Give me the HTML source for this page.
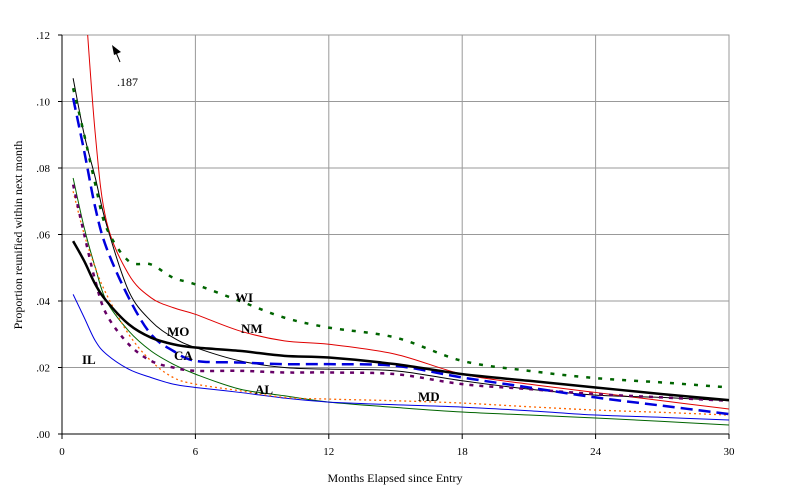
<!DOCTYPE html>
<html><head><meta charset="utf-8"><style>
body{margin:0;background:#fff;}
svg{display:block;font-family:"Liberation Serif",serif;}
</style></head><body>
<svg id="chart" width="805" height="495">
<defs><clipPath id="clip"><rect x="62" y="35" width="667" height="399"/></clipPath></defs>
<g id="grid"></g>
<g id="series" clip-path="url(#clip)"></g>
<g id="axes"></g>
<g id="labels"></g>
<text x="22" y="235" transform="rotate(-90 22 235)" text-anchor="middle" font-size="12">Proportion reunified within next month</text>
<text x="395" y="482" text-anchor="middle" font-size="12">Months Elapsed since Entry</text>
<line x1="120" y1="62" x2="115" y2="50" stroke="#000" stroke-width="1"/>
<polygon points="112,45 121,52 114,55" fill="#000"/>
<text x="117" y="86" font-size="12">.187</text>
</svg>
<script>
const xTicks=[0,6,12,18,24,30];
const yTicks=[0,0.02,0.04,0.06,0.08,0.10,0.12];
const yTickLabels=[".00",".02",".04",".06",".08",".10",".12"];
const months=[0.5,1,1.5,2,3,4,5,6,8,10,12,15,18,21,24,27,30];
const nmVals=[0.187,0.135,0.090,0.064,0.048,0.041,0.038,0.036,0.031,0.028,0.027,0.024,0.018,0.015,0.0125,0.010,0.0075];
const moVals=[0.107,0.090,0.077,0.063,0.043,0.034,0.029,0.026,0.022,0.020,0.0195,0.019,0.016,0.0135,0.0117,0.011,0.010];
const thickVals=[0.058,0.052,0.045,0.040,0.033,0.029,0.027,0.026,0.025,0.0235,0.023,0.021,0.018,0.016,0.014,0.012,0.0102];
const wiVals=[0.104,0.090,0.075,0.062,0.052,0.051,0.047,0.045,0.040,0.035,0.032,0.029,0.022,0.019,0.0168,0.0155,0.014];
const caVals=[0.101,0.085,0.068,0.056,0.041,0.030,0.025,0.022,0.0215,0.021,0.021,0.0205,0.017,0.014,0.011,0.0085,0.006];
const purpleVals=[0.075,0.060,0.046,0.036,0.027,0.022,0.020,0.019,0.019,0.0185,0.0185,0.018,0.015,0.0135,0.012,0.011,0.010];
const alVals=[0.077,0.062,0.050,0.040,0.031,0.025,0.021,0.018,0.0135,0.0115,0.0096,0.008,0.0066,0.0057,0.0048,0.0038,0.0027];
const ilVals=[0.042,0.035,0.028,0.024,0.0195,0.017,0.015,0.014,0.0125,0.0108,0.0096,0.0088,0.0081,0.007,0.0057,0.005,0.0042];
const mdVals=[0.073,0.060,0.050,0.042,0.030,0.022,0.017,0.015,0.013,0.011,0.0105,0.010,0.0093,0.0082,0.0072,0.0065,0.0057];
const ns="http://www.w3.org/2000/svg";
const X=m=>62+m*667/30, Y=v=>434-v*399/0.12;
function mk(tag,attrs,parent){const e=document.createElementNS(ns,tag);for(const k in attrs)e.setAttribute(k,attrs[k]);parent.appendChild(e);return e;}
const grid=document.getElementById('grid'),axes=document.getElementById('axes'),ser=document.getElementById('series'),lab=document.getElementById('labels');
mk('rect',{x:62,y:35,width:667,height:399,fill:'none',stroke:'#999'},grid);
yTicks.forEach((t,i)=>{
 if(t>0){const l=mk('line',{x1:62,x2:729,y1:Y(t),y2:Y(t),stroke:'#999'},grid);
 
 }
 const tk=mk('line',{x1:58,x2:62,y1:Y(t),y2:Y(t),stroke:'#000'},axes);
 const tx=mk('text',{x:50,y:Y(t)+4,'text-anchor':'end','font-size':11},axes);tx.textContent=yTickLabels[i];
 
 
});
xTicks.forEach(t=>{
 if(t>0){const l=mk('line',{x1:X(t),x2:X(t),y1:35,y2:434,stroke:'#999'},grid);
 
 }
 mk('line',{x1:X(t),x2:X(t),y1:434,y2:439,stroke:'#000'},axes);
 const tx=mk('text',{x:X(t),y:455,'text-anchor':'middle','font-size':11},axes);tx.textContent=t;
 
 
});
mk('line',{x1:62,x2:62,y1:35,y2:434,stroke:'#000'},axes);
mk('line',{x1:62,x2:729,y1:434,y2:434,stroke:'#000'},axes);
function path(vals){const p=months.map((m,i)=>[X(m),Y(vals[i])]);let d=`M${p[0][0]},${p[0][1]}`;
 for(let i=0;i<p.length-1;i++){const p0=p[Math.max(0,i-1)],p1=p[i],p2=p[i+1],p3=p[Math.min(p.length-1,i+2)];
 const c1=[p1[0]+(p2[0]-p0[0])/6,p1[1]+(p2[1]-p0[1])/6],c2=[p2[0]-(p3[0]-p1[0])/6,p2[1]-(p3[1]-p1[1])/6];
 d+=` C${c1[0]},${c1[1]} ${c2[0]},${c2[1]} ${p2[0]},${p2[1]}`;}return d;}
const defs=[
 ['nm-line',nmVals,'#e00000',1,''],
 ['mo-thin-line',moVals,'#000',1,''],
 ['al-line',alVals,'#006400',1,''],
 ['il-line',ilVals,'#0000e0',1,''],
 ['md-line',mdVals,'#ff6600',1.3,'2,3'],
 ['purple-line',purpleVals,'#660066',2.5,'4,6'],
 ['wi-line',wiVals,'#006400',2.5,'4,8'],
 ['ca-line',caVals,'#0000dd',2.5,'12,6'],
 ['mo-thick-line',thickVals,'#000',2.5,'']];
defs.forEach(([n,v,c,w,da])=>{const e=mk('path',{d:path(v),fill:'none',stroke:c,'stroke-width':w},ser);
 if(da)e.setAttribute('stroke-dasharray',da);
 
 });
const labels=[['WI',235,302],['NM',241,333],['MO',167,336],['CA',174,360],['IL',82,364],['AL',255,394],['MD',418,401]];
labels.forEach(([t,x,y])=>{const e=mk('text',{x:x,y:y,'font-size':13,'font-weight':'bold'},lab);e.textContent=t;
 
 });
</script>
</body></html>
